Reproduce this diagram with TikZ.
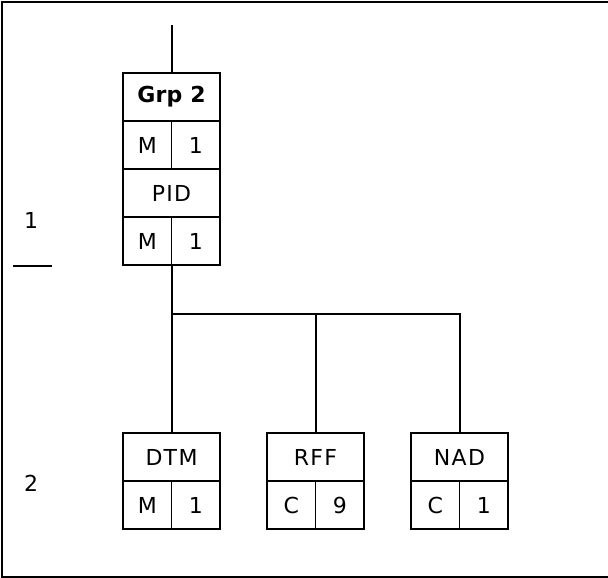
\documentclass[tikz,border=0pt]{standalone}
\usepackage{fontspec}
\setmainfont{DejaVu Sans}[LetterSpace=6]
\newfontfamily\grpfont{DejaVu Sans}[LetterSpace=1]
\begin{document}
\begin{tikzpicture}[x=1pt,y=-1pt,line width=2pt,
  cell/.style={draw,line width=1.8pt,inner sep=0pt,minimum height=48pt,font=\fontsize{22}{26}\selectfont},
  wide/.style={cell,minimum width=97pt},
  half/.style={cell,minimum width=48.5pt},
  lbl/.style={inner sep=0pt,font=\fontsize{22}{26}\selectfont}]
\useasboundingbox (0,0) rectangle (608,578);
\draw[line width=2pt] (609,2) -- (2,2) -- (2,576.5) -- (609,576.5);
% group box
\node[wide] (grp) at (171.5,97) {\grpfont\bfseries Grp 2};
\node[half] (grpm) at (147.25,145) {M};
\node[half] (grp1) at (195.75,145) {1};
\node[wide] (pid) at (171.5,193) {PID};
\node[half] (pidm) at (147.25,241) {M};
\node[half] (pid1) at (195.75,241) {1};
% bottom boxes
\node[wide] (dtm) at (171.5,457) {DTM};
\node[half] (dtmm) at (147.25,505) {M};
\node[half] (dtm1) at (195.75,505) {1};
\node[wide] (rff) at (315.5,457) {RFF};
\node[half] (rffc) at (291.25,505) {C};
\node[half] (rff9) at (339.75,505) {9};
\node[wide] (nad) at (459.5,457) {NAD};
\node[half] (nadc) at (435.25,505) {C};
\node[half] (nad1) at (483.75,505) {1};
% level labels
\node[lbl] (l1) at (31,220) {1};
\node[lbl] (l2) at (31,483) {2};
\coordinate (ls) at (13,265.5);
\coordinate (le) at (52,265.5);
\draw (ls) -- (le);
% connectors
\coordinate (top) at (171.5,25);
\coordinate (j1) at (171.5,314);
\coordinate (j3) at (459.5,314);
\draw (top) -- (grp.north);
\draw (j1 |- pidm.south) -- (j1) -- (dtm.north);
\draw (j1) -- (j3) -- (nad.north);
\draw (j1 -| rff.north) -- (rff.north);
\end{tikzpicture}
\end{document}
